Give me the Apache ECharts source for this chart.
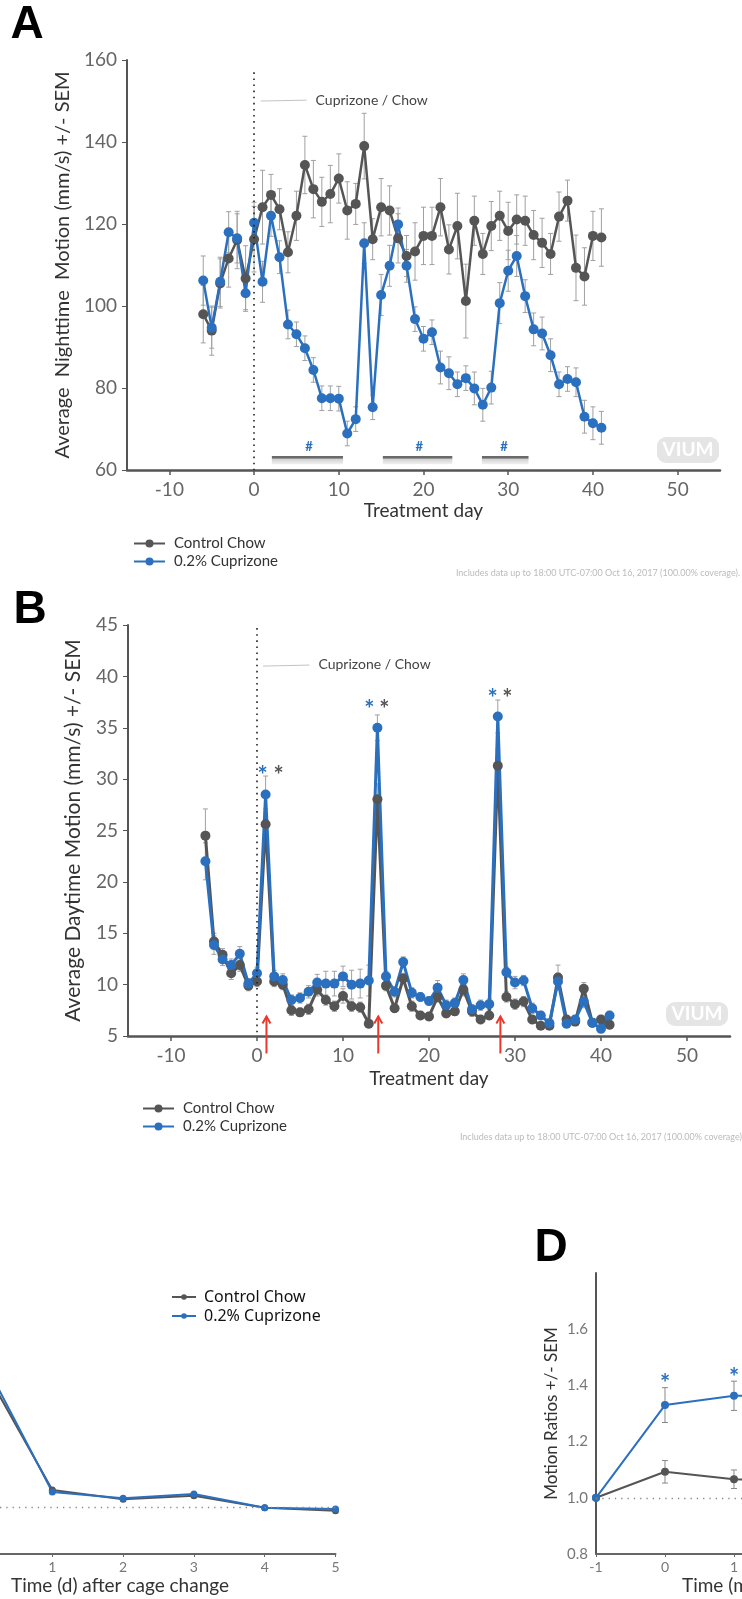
<!DOCTYPE html>
<html lang="en">
<head>
<meta charset="UTF-8">
<title>Cuprizone motion</title>
<script src="https://cdn.jsdelivr.net/npm/echarts@6/dist/echarts.min.js"></script>
<style>
    html, body { margin: 0; padding: 0; background: #fff; }
    #main { width: 742px; height: 1599px; }
</style>
</head>
<body>
<div id="main"></div>
<script>
    // ---- data ----
    var days = [-6, -5, -4, -3, -2, -1, 0, 1, 2, 3, 4, 5, 6, 7, 8, 9, 10, 11, 12, 13, 14, 15, 16, 17, 18, 19, 20,
        21, 22, 23, 24, 25, 26, 27, 28, 29, 30, 31, 32, 33, 34, 35, 36, 37, 38, 39, 40, 41];
    var dayTicks = [-10, 0, 10, 20, 30, 40, 50];

    // A: nighttime motion
    var ctrlNight = [98.0, 94.0, 105.5, 111.6, 116.1, 106.7, 116.3, 124.1, 127.1, 123.6, 113.1, 122.0, 134.4, 128.5,
        125.4, 127.3, 131.1, 123.3, 124.9, 139.0, 116.3, 124.1, 123.3, 116.5, 112.2, 113.3, 117.1, 117.1, 124.1, 113.8,
        119.5, 101.2, 120.8, 112.7, 119.5, 122.0, 118.3, 121.1, 120.8, 117.3, 115.4, 112.7, 121.8, 125.7, 109.3, 107.2,
        117.1, 116.7];
    var ctrlNightSem = [7, 6, 6, 7, 7, 8, 8, 9, 5, 5, 5, 6, 7, 7, 6, 7, 6, 7, 5, 8, 5, 7, 6, 6, 5, 7, 7, 7, 7, 6, 8, 9,
        6, 5, 6, 6, 7, 6, 6, 6, 6, 5, 6, 5, 8, 7, 6, 7];
    var cupNight = [106.2, 94.7, 105.9, 118.0, 116.5, 103.1, 120.3, 105.9, 122.0, 111.9, 95.5, 93.1, 89.7, 84.4, 77.5,
        77.5, 77.4, 68.9, 72.4, 115.3, 75.3, 102.7, 109.8, 119.9, 109.8, 96.8, 92.0, 93.6, 85.0, 83.6, 80.9, 82.4, 79.9,
        75.9, 80.1, 100.7, 108.6, 112.2, 102.4, 94.3, 93.3, 88.0, 80.9, 82.2, 81.4, 73.0, 71.4, 70.3];
    var cupNightSem = [6, 5, 6, 5, 6, 4, 5, 5, 5, 4, 3.5, 3, 3, 3, 3, 3, 3, 3, 3, 5, 3, 5, 5, 4, 4, 3, 3, 3, 4, 4, 3, 3,
        4, 4, 4, 5, 5, 5, 4, 4, 4, 4, 3, 3, 3.5, 4, 4, 4];
    var hashStart = [2.1, 15.2, 26.9];
    var hashEnd = [10.5, 23.4, 32.4];
    var hashMid = [6.5, 19.5, 29.5];

    // B: daytime motion
    var ctrlDay = [24.5, 14.2, 12.9, 11.1, 11.9, 9.9, 10.3, 25.6, 10.3, 10.0, 7.5, 7.3, 7.6, 9.5, 8.5, 7.9, 8.9, 7.9,
        7.8, 6.2, 28.05, 9.9, 7.7, 10.6, 7.9, 7.0, 6.9, 8.8, 7.2, 7.4, 9.5, 7.4, 6.6, 7.0, 31.3, 8.8, 8.1, 8.35, 6.6,
        6.0, 6.0, 10.7, 6.6, 6.4, 9.6, 6.3, 6.6, 6.1];
    var ctrlDaySem = [2.6, 0.8, 0.6, 0.6, 0.6, 0.5, 0.5, 1.5, 0.5, 0.5, 0.5, 0.4, 0.5, 0.6, 0.5, 0.5, 0.7, 0.5, 0.5,
        0.4, 1.5, 0.5, 0.4, 0.5, 0.5, 0.4, 0.4, 0.5, 0.4, 0.4, 0.6, 0.5, 0.4, 0.4, 1.6, 0.5, 0.5, 0.5, 0.4, 0.3, 0.3,
        1.2, 0.4, 0.4, 0.6, 0.4, 0.4, 0.4];
    var cupDay = [22.0, 13.85, 12.45, 11.9, 13.0, 10.1, 11.1, 28.5, 10.8, 10.45, 8.5, 8.7, 9.3, 10.2, 10.1, 10.1, 10.8,
        10.0, 10.1, 10.4, 35.0, 10.8, 9.3, 12.2, 9.2, 8.8, 8.4, 9.7, 8.0, 8.2, 10.45, 7.6, 8.0, 8.1, 36.1, 11.2, 10.2,
        10.4, 7.7, 7.0, 6.25, 10.3, 6.2, 6.6, 8.35, 6.3, 5.7, 7.0];
    var cupDaySem = [1.8, 0.9, 0.6, 0.6, 0.7, 0.5, 0.6, 1.8, 0.6, 0.6, 0.5, 0.5, 0.6, 0.8, 1.2, 1.2, 1.0, 1.4, 1.4,
        1.5, 1.25, 0.5, 0.5, 0.5, 0.5, 0.4, 0.4, 0.7, 0.5, 0.5, 0.6, 0.4, 0.5, 0.5, 1.6, 0.5, 0.6, 0.5, 0.5, 0.4, 0.4,
        0.8, 0.4, 0.4, 0.6, 0.4, 0.4, 0.4];
    var starBlueDays = [0.66, 13.06, 27.4];
    var starGrayDays = [2.5, 14.8, 29.1];
    var starLevels = [30.9, 37.3, 38.4];
    var arrowDays = [1.1, 14.1, 28.3];
    var arrowFrom = 3.3, arrowTo = 6.9;

    // C: ratio after cage change
    var cageDays = [-1, 0, 1, 2, 3, 4, 5];
    var cageTicks = [1, 2, 3, 4, 5];
    var ctrlCage = [1.0, 1.61, 1.072, 1.033, 1.048, 0.997, 0.984];
    var cupCage = [1.0, 1.642, 1.064, 1.037, 1.055, 0.997, 0.991];

    // D: motion ratios
    var ratioTimes = [-1, 0, 1, 2];
    var ctrlRatio = [1.0, 1.0925, 1.066, 1.062];
    var ctrlRatioSem = [0, 0.04, 0.033, 0.035];
    var cupRatio = [1.0, 1.33, 1.363, 1.368];
    var cupRatioSem = [0, 0.062, 0.052, 0.05];
    var ratioStarTimes = [0, 1];
    var ratioStarLevels = [1.426, 1.445];

    var GRAY = '#555555', BLUE = '#2b70bf', ERR = '#a0a0a0';
    var FONT = 'Lato';

    function pairs(xs, ys) {
        return xs.map(function (x, i) { return [x, ys[i]]; });
    }
    function errData(xs, ys, es) {
        return xs.map(function (x, i) { return [x, ys[i] - es[i], ys[i] + es[i]]; });
    }
    function errBar(color, cap) {
        return function (params, api) {
            var x = api.value(0);
            var lo = api.coord([x, api.value(1)]);
            var hi = api.coord([x, api.value(2)]);
            var st = { stroke: color, lineWidth: 1 };
            return {
                type: 'group', children: [
                    { type: 'line', shape: { x1: lo[0], y1: lo[1], x2: hi[0], y2: hi[1] }, style: st },
                    { type: 'line', shape: { x1: hi[0] - cap, y1: hi[1], x2: hi[0] + cap, y2: hi[1] }, style: st },
                    { type: 'line', shape: { x1: lo[0] - cap, y1: lo[1], x2: lo[0] + cap, y2: lo[1] }, style: st }
                ]
            };
        };
    }
    function textMark(txt, color, size, dy) {
        return function (params, api) {
            var p = api.coord([api.value(0), api.value(1)]);
            return {
                type: 'text', x: p[0], y: p[1] + dy,
                style: { text: txt, fill: color, font: 'bold ' + size + 'px ' + FONT, align: 'center', verticalAlign: 'middle' }
            };
        };
    }
    function errSeries(name, xi, data, color, cap) {
        return { type: 'custom', name: name, xAxisIndex: xi, yAxisIndex: xi, data: data, z: 1, silent: true,
            renderItem: errBar(color, cap), encode: { x: 0, y: [1, 2] } };
    }
    function lineSeries(name, xi, data, color, size, width) {
        return { type: 'line', name: name, xAxisIndex: xi, yAxisIndex: xi, data: data, z: 3,
            symbol: 'circle', symbolSize: size, color: color,
            itemStyle: { color: color }, lineStyle: { color: color, width: width } };
    }

    var chart = echarts.init(document.getElementById('main'));

    var dotted = { type: [1.6, 4.5], color: '#222', width: 1.6 };
    var ctrlA = lineSeries('Control Chow', 0, pairs(days, ctrlNight), GRAY, 10, 2.5);
    ctrlA.markLine = {
        silent: true, symbol: ['none', 'none'], animation: false,
        data: [
            [{ coord: [0, 157], lineStyle: dotted, label: { show: false } }, { coord: [0, 60] }],
            [{ coord: [0.8, 150], lineStyle: { type: 'solid', color: '#c4c4c4', width: 1 },
                label: { show: true, position: 'end', formatter: 'Cuprizone / Chow', color: '#444', fontSize: 14, fontFamily: FONT, distance: 9 } },
             { coord: [6.2, 150.2] }]
        ]
    };
    var ctrlB = lineSeries('Control Chow', 1, pairs(days, ctrlDay), GRAY, 10, 3);
    ctrlB.markLine = {
        silent: true, symbol: ['none', 'none'], animation: false,
        data: [
            [{ coord: [0, 44.7], lineStyle: dotted, label: { show: false } }, { coord: [0, 5] }],
            [{ coord: [0.7, 41.0], lineStyle: { type: 'solid', color: '#c4c4c4', width: 1 },
                label: { show: true, position: 'end', formatter: 'Cuprizone / Chow', color: '#444', fontSize: 14, fontFamily: FONT, distance: 9 } },
             { coord: [6.1, 41.1] }]
        ]
    };
    var dottedOne = {
        silent: true, symbol: ['none', 'none'], animation: false, label: { show: false },
        lineStyle: { type: [1.3, 5], color: '#888', width: 1.3 },
        data: [{ yAxis: 1 }]
    };
    var ctrlC = lineSeries('Control Chow', 2, pairs(cageDays, ctrlCage), GRAY, 7, 2);
    ctrlC.markLine = dottedOne;
    var ctrlD = lineSeries('Control Chow', 3, pairs(ratioTimes, ctrlRatio), GRAY, 8, 2);
    ctrlD.markLine = dottedOne;

    var tickStyle = { color: '#666', fontFamily: FONT, fontSize: 19 };
    var titleStyle = { color: '#333', fontFamily: FONT, fontSize: 19 };

    function dayAxis(gi, gap) {
        return {
            gridIndex: gi, type: 'value', min: -15, max: 55, interval: 5,
            axisLine: { onZero: false, lineStyle: { color: '#555', width: 2.5 } },
            axisTick: { customValues: dayTicks, length: 5, lineStyle: { color: '#555', width: 1.5 } },
            axisLabel: Object.assign({ customValues: dayTicks, margin: 10 }, tickStyle),
            splitLine: { show: false },
            name: 'Treatment day', nameLocation: 'middle', nameGap: gap, nameTextStyle: titleStyle
        };
    }
    var smallAxisLine = { onZero: false, lineStyle: { color: '#666', width: 2 } };
    var smallTick = { length: 3, lineStyle: { color: '#666' } };
    var smallLabel = { color: '#777', fontFamily: FONT, fontSize: 14, margin: 6 };
    var yLine = { show: true, onZero: false, lineStyle: { color: '#555', width: 2 } };

    var option = {
        animation: false,
        backgroundColor: '#fff',
        grid: [
            { left: 127, top: 60, width: 593, height: 410 },
            { left: 128, top: 625, width: 602, height: 411 },
            { left: 0, top: 1319, width: 335.5, height: 235 },
            { left: 596, top: 1273, width: 146, height: 281 }
        ],
        legend: [
            { left: 128, top: 531, orient: 'vertical', itemWidth: 31, itemHeight: 10, itemGap: 3,
                data: ['Control Chow', '0.2% Cuprizone'],
                textStyle: { color: '#333', fontFamily: FONT, fontSize: 15, padding: [0, 0, 0, 4] } },
            { left: 137, top: 1096, orient: 'vertical', itemWidth: 31, itemHeight: 10, itemGap: 3,
                data: ['Control Chow', '0.2% Cuprizone'],
                textStyle: { color: '#333', fontFamily: FONT, fontSize: 15, padding: [0, 0, 0, 4] } },
            { left: 166, top: 1284, orient: 'vertical', itemWidth: 24, itemHeight: 7, itemGap: 3,
                data: ['Control Chow', '0.2% Cuprizone'],
                textStyle: { color: '#111', fontFamily: 'Noto Sans', fontSize: 16, padding: [0, 0, 0, 3] } }
        ],
        xAxis: [
            dayAxis(0, 31),
            dayAxis(1, 33),
            { gridIndex: 2, type: 'value', min: 0.261, max: 5,
                axisLine: smallAxisLine,
                axisTick: Object.assign({ customValues: cageTicks }, smallTick),
                axisLabel: Object.assign({ customValues: cageTicks }, smallLabel),
                splitLine: { show: false } },
            { gridIndex: 3, type: 'value', min: -1, max: 1.116, interval: 1,
                axisLine: smallAxisLine, axisTick: smallTick, axisLabel: smallLabel,
                splitLine: { show: false } }
        ],
        yAxis: [
            { gridIndex: 0, type: 'value', min: 60, max: 160, interval: 20,
                axisLine: yLine,
                axisTick: { show: true, length: 5, lineStyle: { color: '#555' } },
                axisLabel: Object.assign({ margin: 10 }, tickStyle), splitLine: { show: false },
                name: 'Average  Nighttime  Motion (mm/s) +/- SEM', nameLocation: 'middle', nameRotate: 90, nameGap: 53,
                nameTextStyle: { color: '#333', fontFamily: FONT, fontSize: 20 } },
            { gridIndex: 1, type: 'value', min: 5, max: 45, interval: 5,
                axisLine: yLine,
                axisTick: { show: true, length: 5, lineStyle: { color: '#555' } },
                axisLabel: Object.assign({ margin: 10 }, tickStyle), splitLine: { show: false },
                name: 'Average Daytime Motion (mm/s) +/- SEM', nameLocation: 'middle', nameRotate: 90, nameGap: 44,
                nameTextStyle: { color: '#333', fontFamily: FONT, fontSize: 21 } },
            { gridIndex: 2, type: 'value', min: 0.8, max: 1.8, show: false },
            { gridIndex: 3, type: 'value', min: 0.8, max: 1.8, interval: 0.2,
                axisLine: yLine,
                axisTick: { show: false },
                axisLabel: { color: '#777', fontFamily: FONT, fontSize: 15, margin: 8,
                    formatter: function (v) { return v > 1.7 ? '' : v.toFixed(1); } },
                splitLine: { show: false },
                name: 'Motion Ratios +/- SEM', nameLocation: 'middle', nameRotate: 90, nameGap: 36,
                nameTextStyle: { color: '#333', fontFamily: FONT, fontSize: 17 } }
        ],
        series: [
            // A
            errSeries('errCtrlA', 0, errData(days, ctrlNight, ctrlNightSem), ERR, 2.5),
            errSeries('errCupA', 0, errData(days, cupNight, cupNightSem), ERR, 2.5),
            { type: 'custom', xAxisIndex: 0, yAxisIndex: 0, silent: true, z: 1,
                data: hashStart.map(function (s, i) { return [s, hashEnd[i]]; }),
                renderItem: function (params, api) {
                    var p1 = api.coord([api.value(0), 63.4]);
                    var p2 = api.coord([api.value(1), 61.4]);
                    return { type: 'rect', shape: { x: p1[0], y: p1[1], width: p2[0] - p1[0], height: p2[1] - p1[1] },
                        style: { fill: new echarts.graphic.LinearGradient(0, 0, 0, 1, [
                            { offset: 0, color: '#6a6a6a' }, { offset: 0.28, color: '#6a6a6a' },
                            { offset: 0.32, color: '#cfcfcf' }, { offset: 1, color: '#f2f2f2' }]) } };
                } },
            { type: 'custom', xAxisIndex: 0, yAxisIndex: 0, silent: true, z: 4,
                data: hashMid.map(function (x) { return [x, 65.7]; }),
                renderItem: textMark('#', BLUE, 13, 0) },
            ctrlA,
            lineSeries('0.2% Cuprizone', 0, pairs(days, cupNight), BLUE, 10, 2.5),
            // B
            errSeries('errCtrlB', 1, errData(days, ctrlDay, ctrlDaySem), ERR, 2.5),
            errSeries('errCupB', 1, errData(days, cupDay, cupDaySem), ERR, 2.5),
            ctrlB,
            lineSeries('0.2% Cuprizone', 1, pairs(days, cupDay), BLUE, 10, 3),
            { type: 'custom', xAxisIndex: 1, yAxisIndex: 1, silent: true, z: 4,
                data: pairs(starBlueDays, starLevels), renderItem: textMark('*', BLUE, 24, 6) },
            { type: 'custom', xAxisIndex: 1, yAxisIndex: 1, silent: true, z: 4,
                data: pairs(starGrayDays, starLevels), renderItem: textMark('*', GRAY, 24, 6) },
            { type: 'custom', xAxisIndex: 1, yAxisIndex: 1, silent: true, z: 5, clip: false,
                data: arrowDays.map(function (d) { return [d, arrowFrom, arrowTo]; }),
                renderItem: function (params, api) {
                    var b = api.coord([api.value(0), api.value(1)]);
                    var t = api.coord([api.value(0), api.value(2)]);
                    var st = { stroke: '#e8392b', lineWidth: 2, fill: null };
                    return { type: 'group', children: [
                        { type: 'line', shape: { x1: b[0], y1: b[1], x2: t[0], y2: t[1] }, style: st },
                        { type: 'polyline', shape: { points: [[t[0] - 4, t[1] + 7], [t[0], t[1]], [t[0] + 4, t[1] + 7]] }, style: st }
                    ] };
                } },
            // C
            ctrlC,
            lineSeries('0.2% Cuprizone', 2, pairs(cageDays, cupCage), BLUE, 7, 2),
            // D
            errSeries('errCtrlD', 3, errData(ratioTimes, ctrlRatio, ctrlRatioSem), '#888', 3),
            errSeries('errCupD', 3, errData(ratioTimes, cupRatio, cupRatioSem), '#888', 3),
            ctrlD,
            lineSeries('0.2% Cuprizone', 3, pairs(ratioTimes, cupRatio), BLUE, 8, 2),
            { type: 'custom', xAxisIndex: 3, yAxisIndex: 3, silent: true, z: 4,
                data: pairs(ratioStarTimes, ratioStarLevels), renderItem: textMark('*', BLUE, 24, 6) }
        ],
        graphic: [
            { type: 'text', x: 27, y: 25, style: { text: 'A', font: 'bold 46px "Liberation Sans"', fill: '#000', align: 'center', verticalAlign: 'middle' } },
            { type: 'text', x: 30, y: 610, style: { text: 'B', font: 'bold 46px "Liberation Sans"', fill: '#000', align: 'center', verticalAlign: 'middle' } },
            { type: 'text', x: 551, y: 1248, style: { text: 'D', font: 'bold 46px "Liberation Sans"', fill: '#000', align: 'center', verticalAlign: 'middle' } },
            { type: 'text', x: 740, y: 573, style: { text: 'Includes data up to 18:00 UTC-07:00 Oct 16, 2017 (100.00% coverage).',
                font: '9px ' + FONT, fill: '#bbb', align: 'right', verticalAlign: 'middle' } },
            { type: 'text', x: 744, y: 1137, style: { text: 'Includes data up to 18:00 UTC-07:00 Oct 16, 2017 (100.00% coverage).',
                font: '9px ' + FONT, fill: '#bbb', align: 'right', verticalAlign: 'middle' } },
            { type: 'text', x: 120, y: 1586, style: { text: 'Time (d) after cage change', font: '19px ' + FONT,
                fill: '#333', align: 'center', verticalAlign: 'middle' } },
            { type: 'text', x: 682, y: 1586, style: { text: 'Time (min) after cage change', font: '19px ' + FONT,
                fill: '#333', align: 'left', verticalAlign: 'middle' } },
            { type: 'group', x: 657, y: 437, children: [
                { type: 'rect', shape: { x: 0, y: 0, width: 62, height: 26, r: 9 }, style: { fill: '#e5e5e5' } },
                { type: 'text', x: 31, y: 13, style: { text: 'VIUM', font: 'bold 19px ' + FONT, fill: '#fff', align: 'center', verticalAlign: 'middle' } }
            ] },
            { type: 'group', x: 666, y: 1002, children: [
                { type: 'rect', shape: { x: 0, y: 0, width: 62, height: 24, r: 9 }, style: { fill: '#e5e5e5' } },
                { type: 'text', x: 31, y: 12, style: { text: 'VIUM', font: 'bold 19px ' + FONT, fill: '#fff', align: 'center', verticalAlign: 'middle' } }
            ] }
        ]
    };
    chart.setOption(option);
</script>
</body>
</html>
